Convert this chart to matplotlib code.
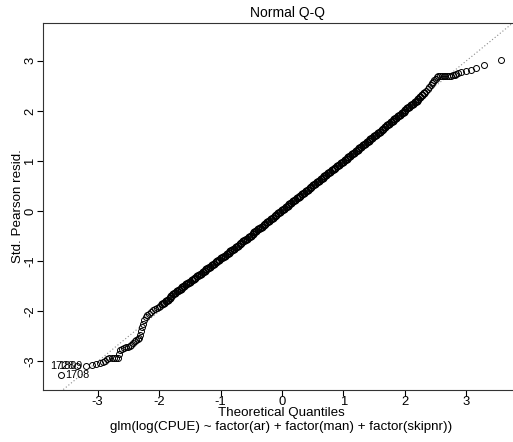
import matplotlib
matplotlib.use("Agg")
import matplotlib.pyplot as plt

plt.rcParams['font.family'] = ['Liberation Sans', 'DejaVu Sans']

# Q-Q points: theoretical quantile, std. Pearson residual
tail_lo = [(-3.59, -3.28), (-3.33, -3.09), (-3.19, -3.09), (-3.10, -3.08),
           (-3.02, -3.06), (-2.96, -3.04), (-2.92, -3.02), (-2.88, -2.99),
           (-2.85, -2.95), (-2.81, -2.94), (-2.77, -2.94), (-2.73, -2.94),
           (-2.70, -2.94), (-2.67, -2.93), (-2.65, -2.86), (-2.63, -2.78),
           (-2.60, -2.75), (-2.57, -2.73), (-2.54, -2.72), (-2.51, -2.71),
           (-2.48, -2.69), (-2.45, -2.67), (-2.42, -2.63), (-2.39, -2.60),
           (-2.37, -2.57), (-2.35, -2.55), (-2.33, -2.53), (-2.31, -2.47),
           (-2.30, -2.40), (-2.28, -2.32), (-2.26, -2.25), (-2.24, -2.18),
           (-2.22, -2.12), (-2.19, -2.08), (-2.16, -2.05), (-2.13, -2.02),
           (-2.10, -1.98), (-2.07, -1.96), (-2.04, -1.94), (-2.01, -1.92),
           (-1.98, -1.90)]

body = [(-1.95, -1.86), (-1.92, -1.83), (-1.89, -1.80), (-1.86, -1.77),
        (-1.83, -1.73), (-1.80, -1.70), (-1.77, -1.66), (-1.74, -1.63),
        (-1.71, -1.60), (-1.68, -1.57), (-1.65, -1.55), (-1.62, -1.52),
        (-1.59, -1.49), (-1.56, -1.46), (-1.53, -1.44), (-1.50, -1.41),
        (-1.47, -1.38), (-1.44, -1.35), (-1.41, -1.33), (-1.38, -1.30),
        (-1.35, -1.27), (-1.32, -1.25), (-1.29, -1.22), (-1.26, -1.19),
        (-1.23, -1.16), (-1.20, -1.14), (-1.17, -1.11), (-1.14, -1.08),
        (-1.11, -1.05), (-1.08, -1.02), (-1.05, -0.99), (-1.02, -0.97),
        (-0.99, -0.94), (-0.96, -0.91), (-0.93, -0.89), (-0.90, -0.86),
        (-0.87, -0.83), (-0.84, -0.80), (-0.81, -0.77), (-0.78, -0.75),
        (-0.75, -0.72), (-0.72, -0.69), (-0.69, -0.66), (-0.66, -0.63),
        (-0.63, -0.60), (-0.60, -0.57), (-0.57, -0.55), (-0.54, -0.52),
        (-0.51, -0.49), (-0.48, -0.45), (-0.45, -0.42), (-0.42, -0.39),
        (-0.39, -0.36), (-0.36, -0.33), (-0.33, -0.31), (-0.30, -0.28),
        (-0.27, -0.25), (-0.24, -0.22), (-0.21, -0.19), (-0.18, -0.16),
        (-0.15, -0.13), (-0.12, -0.10), (-0.09, -0.07), (-0.06, -0.04),
        (-0.03, -0.01), (0.00, 0.02), (0.03, 0.05), (0.06, 0.08),
        (0.09, 0.11), (0.12, 0.14), (0.15, 0.17), (0.18, 0.20),
        (0.21, 0.23), (0.24, 0.26), (0.27, 0.28), (0.30, 0.31),
        (0.33, 0.34), (0.36, 0.37), (0.39, 0.40), (0.42, 0.43),
        (0.45, 0.46), (0.48, 0.49), (0.51, 0.52), (0.54, 0.55),
        (0.57, 0.58), (0.60, 0.61), (0.63, 0.64), (0.66, 0.67),
        (0.69, 0.70), (0.72, 0.73), (0.75, 0.76), (0.78, 0.79),
        (0.81, 0.82), (0.84, 0.85), (0.87, 0.87), (0.90, 0.90),
        (0.93, 0.93), (0.96, 0.96), (0.99, 0.99), (1.02, 1.02),
        (1.05, 1.05), (1.08, 1.08), (1.11, 1.11), (1.14, 1.14),
        (1.17, 1.17), (1.20, 1.20), (1.23, 1.23), (1.26, 1.26),
        (1.29, 1.29), (1.32, 1.32), (1.35, 1.35), (1.38, 1.38),
        (1.41, 1.41), (1.44, 1.44), (1.47, 1.47), (1.50, 1.50),
        (1.53, 1.53), (1.56, 1.56), (1.59, 1.59), (1.62, 1.62),
        (1.65, 1.65), (1.68, 1.68), (1.71, 1.71), (1.74, 1.74),
        (1.77, 1.77), (1.80, 1.80), (1.83, 1.83), (1.86, 1.86),
        (1.89, 1.89), (1.92, 1.92), (1.95, 1.95), (1.98, 1.98),
        (2.01, 2.02), (2.04, 2.05), (2.07, 2.08), (2.10, 2.11),
        (2.13, 2.14), (2.16, 2.17), (2.19, 2.20), (2.22, 2.24),
        (2.25, 2.27), (2.28, 2.31), (2.31, 2.35)]

tail_hi = [(2.34, 2.40), (2.37, 2.44), (2.40, 2.48), (2.42, 2.52),
           (2.44, 2.55), (2.46, 2.58), (2.48, 2.61), (2.50, 2.64),
           (2.52, 2.67), (2.54, 2.69), (2.57, 2.70), (2.60, 2.70),
           (2.63, 2.70), (2.66, 2.70), (2.69, 2.70), (2.72, 2.70),
           (2.75, 2.70), (2.78, 2.71), (2.81, 2.72), (2.84, 2.74),
           (2.87, 2.76), (2.92, 2.78), (2.99, 2.80), (3.07, 2.82),
           (3.15, 2.85), (3.29, 2.92), (3.56, 3.01)]

# labelled extreme points (obs id, theoretical, residual)
lab_ids = ["1708", "1728", "1809"]
lab_x = [-3.59, -3.33, -3.19]
lab_y = [-3.28, -3.09, -3.09]

ticks = [-3, -2, -1, 0, 1, 2, 3]

fig = plt.figure(figsize=(5.13, 4.42), dpi=100)
ax = fig.add_axes([43 / 513, 52.5 / 442, 478 / 513, 366.2 / 442])

ax.axline((0, 0), slope=1.0, color='#8a8a8a', lw=0.8, ls=(0, (1, 2)))

# the dense middle is thousands of overlapping circles -> heavier stroke
ax.plot([p[0] for p in body], [p[1] for p in body], 'o', mfc='none',
        mec='black', ms=4.6, mew=1.2)
tails = tail_lo + tail_hi
ax.plot([p[0] for p in tails], [p[1] for p in tails], 'o', mfc='none',
        mec='black', ms=4.3, mew=0.7)

ax.set_xlim(-3.89, 3.89)
ax.set_ylim(-3.56, 3.75)

for lid, lx, ly in zip(lab_ids, lab_x, lab_y):
    if lx < -3.4:
        ax.annotate(lid, (lx, ly), xytext=(3, 0), textcoords='offset points',
                    ha='left', va='center', fontsize=7.8)
    else:
        ax.annotate(lid, (lx, ly), xytext=(-2.5, 0), textcoords='offset points',
                    ha='right', va='center', fontsize=7.8)

ax.set_xticks(ticks)
ax.set_yticks(ticks)
ax.set_xticklabels([str(t) for t in ticks], fontsize=9.4)
ax.set_yticklabels([str(t) for t in ticks], fontsize=9.4, rotation=90, va='center')
ax.tick_params(direction='out', length=4, width=0.8, pad=0.8)
for s in ax.spines.values():
    s.set_linewidth(0.8)
    s.set_color('#333333')

fig.text(287 / 513, 1 - 13 / 442, "Normal Q-Q", ha='center', va='center', fontsize=10)
fig.text(281.5 / 513, 1 - 413 / 442, "Theoretical Quantiles", ha='center', va='center', fontsize=9.6)
fig.text(281.5 / 513, 1 - 427 / 442, "glm(log(CPUE) ~ factor(ar) + factor(man) + factor(skipnr))",
         ha='center', va='center', fontsize=9.6)
fig.text(18 / 513, 1 - 206 / 442, "Std. Pearson resid.", ha='center', va='center',
         rotation=90, fontsize=9.6)

fig.savefig("out.png", dpi=100)
